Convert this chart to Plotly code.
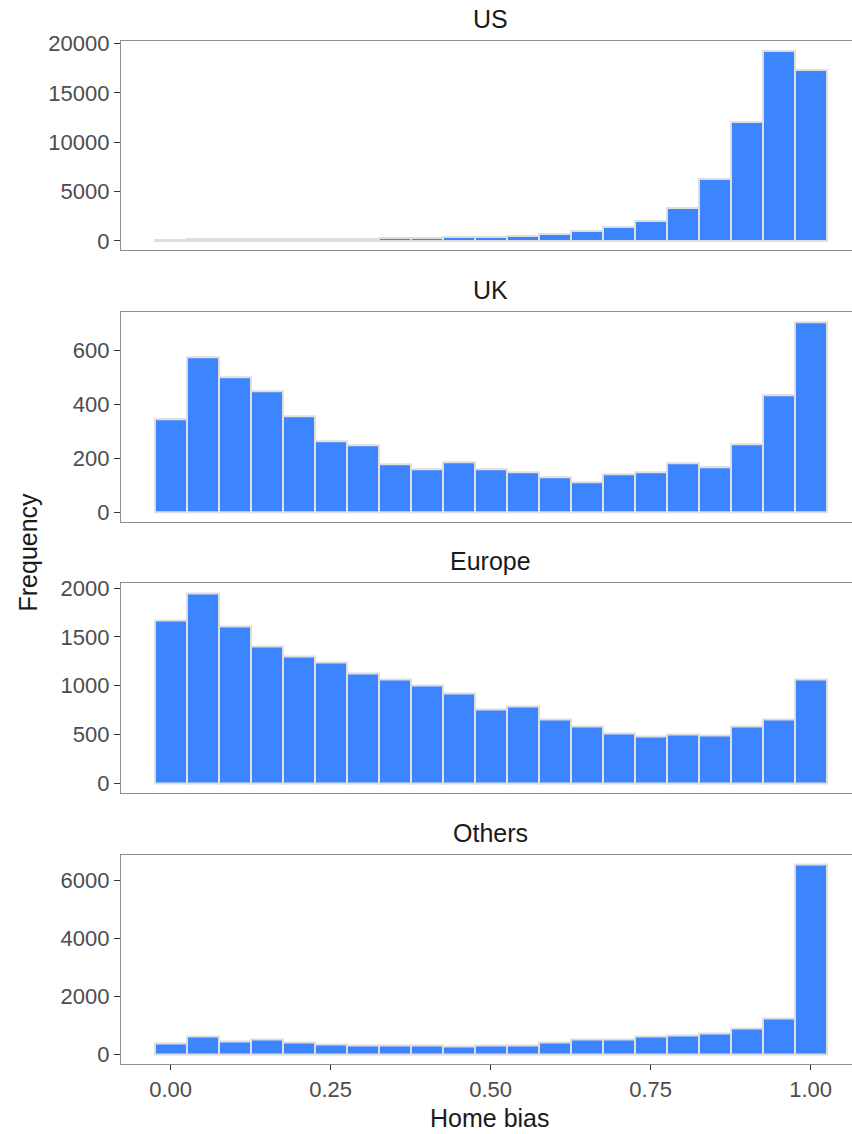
import plotly.graph_objects as go

# ---- data ----
bin_centers = [0.00, 0.05, 0.10, 0.15, 0.20, 0.25, 0.30, 0.35, 0.40, 0.45, 0.50,
               0.55, 0.60, 0.65, 0.70, 0.75, 0.80, 0.85, 0.90, 0.95, 1.00]
bin_width = 0.05

regions = ["US", "UK", "Europe", "Others"]

us_counts = [110, 180, 190, 170, 200, 210, 220, 280, 320, 370, 410,
             520, 690, 995, 1365, 2040, 3380, 6300, 12020, 19290, 17300]
uk_counts = [345, 575, 500, 448, 355, 263, 247, 176, 160, 184, 157,
             148, 128, 109, 139, 147, 181, 168, 250, 433, 705]
europe_counts = [1665, 1950, 1612, 1400, 1303, 1240, 1130, 1062, 1000, 925, 758,
                 790, 658, 583, 515, 481, 502, 495, 586, 654, 1061]
others_counts = [385, 625, 455, 500, 410, 355, 318, 295, 305, 272, 318,
                 305, 410, 500, 525, 615, 650, 730, 900, 1235, 6555]

series = [us_counts, uk_counts, europe_counts, others_counts]
y_dticks = [5000, 200, 500, 2000]
x_tickvals = [0.0, 0.25, 0.5, 0.75, 1.0]

# ---- style ----
BAR_FILL = "#3d85ff"
BAR_EDGE = "#dedede"
AXIS_LINE = "#8e8e8e"
TICK_COL = "#333333"
FONT_FAMILY = "Liberation Sans, Arial, sans-serif"
TICK_FONT = dict(family=FONT_FAMILY, size=22, color="#4d4d4d")
TITLE_FONT = dict(family=FONT_FAMILY, size=25, color="#1a1a1a")

W, H = 852, 1134
M_L, M_R, M_T, M_B = 121, 0, 41, 70
plot_h = H - M_T - M_B
panel_h = 209.4
gap = (plot_h - 4 * panel_h) / 3

fig = go.Figure()

# x-range: ggplot-style 5% expansion on the left, clipped at the window edge on the right
x_lo = bin_centers[0] - bin_width / 2
x_hi = bin_centers[-1] + bin_width / 2
x_min = x_lo - 0.05 * (x_hi - x_lo)
px_per_unit = 640.0
x_max = x_min + (W - M_L - M_R) / px_per_unit
title_x = (490 - M_L) / (W - M_L - M_R)

for i, (name, vals) in enumerate(zip(regions, series)):
    idx = i + 1
    xa = "x" if idx == 1 else f"x{idx}"
    ya = "y" if idx == 1 else f"y{idx}"
    fig.add_trace(go.Bar(
        x=bin_centers, y=vals, width=bin_width,
        marker=dict(color=BAR_FILL, line=dict(color=BAR_EDGE, width=2)),
        xaxis=xa, yaxis=ya, showlegend=False, hoverinfo="x+y",
    ))

    top = 1 - (i * (panel_h + gap)) / plot_h
    bottom = max(top - panel_h / plot_h, 0.0)
    vmax = max(vals)

    last = (idx == 4)
    xkey = "xaxis" if idx == 1 else f"xaxis{idx}"
    ykey = "yaxis" if idx == 1 else f"yaxis{idx}"
    fig.layout[xkey] = dict(
        domain=[0, 1], anchor=ya, range=[x_min, x_max],
        showline=True, linecolor=AXIS_LINE, linewidth=1.2, mirror=True,
        showgrid=False, zeroline=False,
        ticks="outside" if last else "", ticklen=5, tickwidth=1.1, tickcolor=TICK_COL,
        tickvals=x_tickvals, tickformat=".2f", showticklabels=last,
        tickfont=TICK_FONT,
    )
    fig.layout[ykey] = dict(
        domain=[bottom, top], anchor=xa,
        range=[-0.05 * vmax, 1.05 * vmax],
        showline=True, linecolor=AXIS_LINE, linewidth=1.2, mirror=False,
        showgrid=False, zeroline=False,
        ticks="outside", ticklen=6, tickwidth=1.1, tickcolor=TICK_COL,
        tick0=0, dtick=y_dticks[i], tickformat="d", tickfont=TICK_FONT,
    )
    # facet strip title
    fig.add_annotation(
        text=name, xref="paper", yref="paper",
        x=title_x, xanchor="center",
        y=top, yanchor="middle", yshift=22,
        showarrow=False, font=TITLE_FONT,
    )

# axis titles
fig.add_annotation(
    text="Home bias", xref="paper", yref="paper",
    x=title_x, xanchor="center",
    y=0, yanchor="middle", yshift=-54,
    showarrow=False, font=TITLE_FONT,
)
fig.add_annotation(
    text="Frequency", xref="paper", yref="paper",
    x=0, xanchor="center", xshift=-(M_L - 27),
    y=0.5, yanchor="middle", textangle=-90,
    showarrow=False, font=TITLE_FONT,
)

fig.update_layout(
    width=W, height=H,
    margin=dict(l=M_L, r=M_R, t=M_T, b=M_B),
    plot_bgcolor="white", paper_bgcolor="white",
    bargap=0,
)

fig.write_html("out.html")
